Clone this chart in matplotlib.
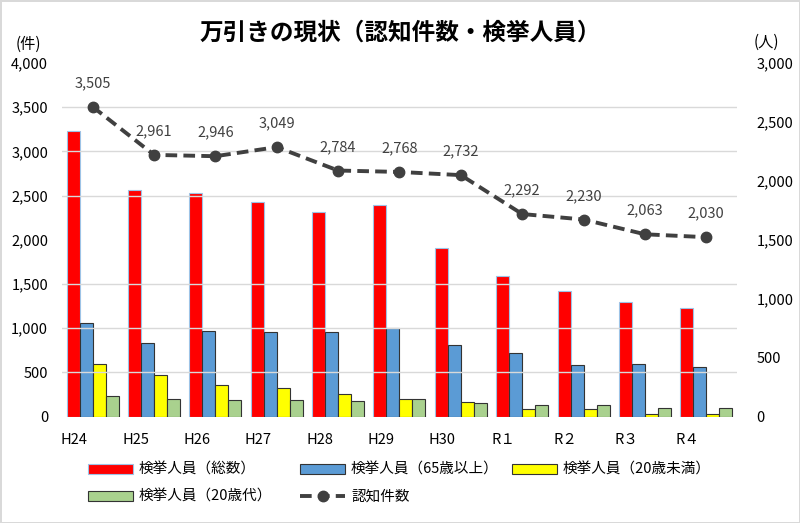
import matplotlib
matplotlib.use("Agg")
import matplotlib.pyplot as plt
import numpy as np
from matplotlib.ticker import MultipleLocator, FuncFormatter

plt.rcParams['font.family'] = ['Noto Sans CJK JP', 'DejaVu Sans']

# ---- データ ----
nendo = ['H24', 'H25', 'H26', 'H27', 'H28', 'H29', 'H30', 'R１', 'R２', 'R３', 'R４']
ninchi = [3505, 2961, 2946, 3049, 2784, 2768, 2732, 2292, 2230, 2063, 2030]     # 認知件数（件）
kenkyo_total = [2424, 1922, 1898, 1825, 1739, 1799, 1432, 1195, 1066, 970, 918]  # 検挙人員（人）
kenkyo_65 = [793, 628, 727, 716, 722, 756, 605, 536, 442, 448, 419]
kenkyo_u20 = [448, 356, 271, 239, 192, 154, 128, 63, 68, 26, 21]
kenkyo_20s = [177, 149, 140, 145, 132, 149, 117, 97, 97, 74, 72]

x = np.arange(len(nendo))
w = 0.212

fig = plt.figure(figsize=(8, 5.23), dpi=100)
fig.patch.set_edgecolor('#d9d9d9')
fig.patch.set_linewidth(2)

ax = fig.add_axes([0.0775, 0.2033, 0.8437, 0.6762])   # 件（左）: 折れ線
axb = ax.twinx()                                      # 人（右）: 棒

# -------- 棒グラフ（検挙人員） --------
axb.bar(x - 1.5 * w, kenkyo_total, w, color='#ff0000', edgecolor='#9dc3e6', lw=0.8, label='検挙人員（総数）')
axb.bar(x - 0.5 * w, kenkyo_65, w, color='#5b9bd5', edgecolor='#333333', lw=0.8, label='検挙人員（65歳以上）')
axb.bar(x + 0.5 * w, kenkyo_u20, w, color='#ffff00', edgecolor='#333333', lw=0.8, label='検挙人員（20歳未満）')
axb.bar(x + 1.5 * w, kenkyo_20s, w, color='#a9d18e', edgecolor='#333333', lw=0.8, label='検挙人員（20歳代）')
axb.set_ylim(0, 3000)
axb.yaxis.set_major_locator(MultipleLocator(500))
axb.yaxis.set_minor_locator(MultipleLocator(375))   # 左軸500件ごとの目盛線
axb.grid(which='minor', axis='y', color='#d9d9d9', lw=1)
axb.tick_params(which='both', length=0, labelsize=10.5, colors='black')
axb.tick_params(axis='y', pad=14)

# -------- 折れ線（認知件数） --------
ax.set_zorder(axb.get_zorder() + 1)
ax.patch.set_visible(False)
ax.plot(x, ninchi, ls=(0, (3, 1.6)), color='#404040', lw=2.8, marker='o', ms=7.5, label='認知件数')
for xi, v in zip(x, ninchi):
    ax.annotate(f'{v:,}', (xi, v), xytext=(0, 12), textcoords='offset points',
                ha='center', va='bottom', fontsize=10.5, color='#404040')
ax.set_ylim(0, 4000)
ax.set_xlim(-0.5, len(nendo) - 0.5)
ax.yaxis.set_major_locator(MultipleLocator(500))
ax.tick_params(length=0, labelsize=10.5)
ax.tick_params(axis='y', pad=10)
ax.set_xticks(x - 0.3)
ax.set_xticklabels(nendo)
ax.tick_params(axis='x', pad=12)

fmt = FuncFormatter(lambda v, p: f'{int(v):,}')
ax.yaxis.set_major_formatter(fmt)
axb.yaxis.set_major_formatter(fmt)

for a in (ax, axb):
    for s in a.spines.values():
        s.set_visible(False)

fig.text(0.035, 0.915, '(件)', fontsize=11, ha='center', va='center')
fig.text(0.958, 0.92, '(人)', fontsize=11, ha='center', va='center')
fig.text(0.5, 0.938, '万引きの現状（認知件数・検挙人員）', fontsize=17, fontweight='bold',
         ha='center', va='center')

# -------- 凡例（項目ごとに配置） --------
h1, l1 = axb.get_legend_handles_labels()
h2, l2 = ax.get_legend_handles_labels()
items = [(h1[0], l1[0], 88, 470), (h1[1], l1[1], 300, 470), (h1[2], l1[2], 512, 470),
         (h1[3], l1[3], 88, 497), (h2[0], l2[0], 300, 497)]
for h, l, px, py in items:
    fig.legend([h], [l], loc='center left', bbox_to_anchor=(px / 800, 1 - py / 523),
               frameon=False, fontsize=10.5, handlelength=3.1, handleheight=0.68,
               handletextpad=0.4, borderpad=0, borderaxespad=0)

fig.savefig('out.png', dpi=100)
